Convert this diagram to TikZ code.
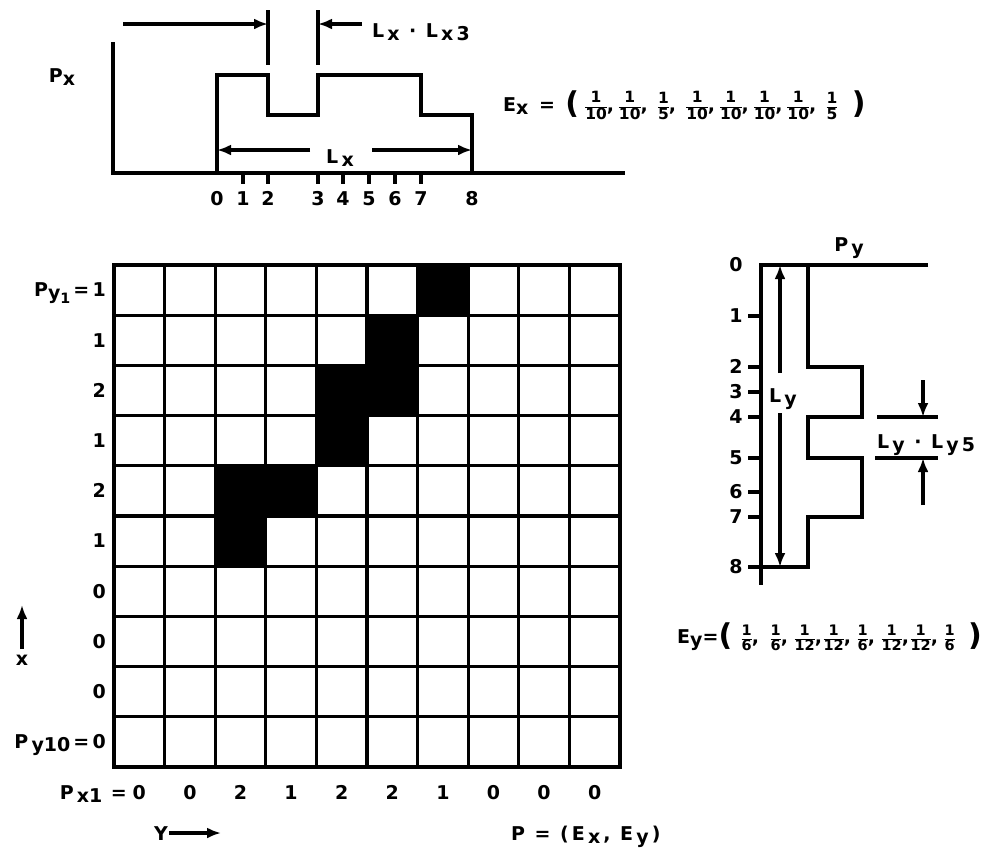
\documentclass[tikz,border=0pt]{standalone}
\usepackage{fontspec}
\usepackage{graphicx}
\setmainfont{DejaVu Sans}
\usetikzlibrary{arrows.meta}
\newcommand\sbs[1]{\raisebox{-0.3ex}{#1}}
\newcommand\frc[3]{{\fontsize{#1}{#1}\selectfont\bfseries\setlength\arrayrulewidth{1.3pt}%
  \renewcommand\arraystretch{0.8}\setlength\tabcolsep{0pt}%
  \begin{tabular}{c}#2\\\hline #3\end{tabular}}}
\newcommand\bp[1]{{\fontsize{30}{30}\selectfont #1}}
\newcommand\itx[2]{\makebox[33.7pt][c]{\frc{15.5}{#1}{#2}\rlap{,}}}
\newcommand\itxl[2]{\makebox[33.7pt][c]{\frc{15.5}{#1}{#2}}}
\newcommand\ity[2]{\makebox[29pt][c]{\frc{14.5}{#1}{#2}\rlap{,}}}
\newcommand\ityl[2]{\makebox[29pt][c]{\frc{14.5}{#1}{#2}}}
\begin{document}
\begin{tikzpicture}[x=1pt,y=-1pt,
  lab/.style={font=\fontsize{19}{21}\selectfont\bfseries, inner sep=0pt},
  heavy/.style={line width=3.3pt},
  arr/.style={line width=3.3pt,-{Latex[length=14pt,width=11pt]}}]
\useasboundingbox[fill=white] (0,0) rectangle (987,855);

% ---------- top profile P_x ----------
\draw[heavy,line join=miter] (113,42) -- (113,173) -- (625,173);
\draw[heavy,line join=miter] (217,173) -- (217,75) -- (268,75) -- (268,115) -- (318,115) -- (318,75)
  -- (421,75) -- (421,115) -- (472,115) -- (472,173);
\foreach \x in {243,268,318,343,369,395,421} \draw[heavy] (\x,173) -- (\x,184);
\foreach \x/\t in {217/0,243/1,268/2,318/3,343/4,369/5,395/6,421/7,472/8}
  \node[lab,anchor=base] (tx\t) at (\x,205) {\t};
\node[lab,anchor=base] (pxlab) at (62,82) {P\sbs{x}};
% Lx dimension
\coordinate (lxl) at (217,150);
\coordinate (lxr) at (472,150);
\coordinate (lxgl) at (310,150);
\coordinate (lxgr) at (372,150);
\node[lab,anchor=base] (lxlab) at (340,163) {L\,\sbs{x}};
\draw[arr] (lxgl) -- (lxl);
\draw[arr] (lxgr) -- (lxr);
% Lx . Lx3 marker
\draw[heavy] (268,10) -- (268,65);
\draw[heavy] (318,10) -- (318,65);
\coordinate (m1a) at (123,24);
\coordinate (m1b) at (268,24);
\coordinate (m2a) at (362,24);
\coordinate (m2b) at (318,24);
\draw[arr] (m1a) -- (m1b);
\draw[arr] (m2a) -- (m2b);
\node[lab,anchor=base west] (lxlx3) at (372,37) {L\,\sbs{x}\enspace·\enspace L\,\sbs{x\,3}};
% Ex formula
\node[lab,anchor=base west] (ex) at (503,111)
  {\makebox[76pt]{E\sbs{x}\hfill=\hfill\raisebox{-0.2ex}{\bp{(}}}%
   \itx{1}{10}\itx{1}{10}\itx{1}{5}\itx{1}{10}\itx{1}{10}\itx{1}{10}\itx{1}{10}\itxl{1}{5}%
   \hspace{3pt}\raisebox{-0.2ex}{\bp{)}}};

% ---------- grid ----------
\foreach \c/\r in {6/0,5/1,4/2,5/2,4/3,2/4,3/4,2/5}
  \fill ({114+\c*50.6},{265+\r*50.2}) rectangle ++(50.6,50.2);
\foreach \i in {1,...,9} \draw[heavy] ({114+\i*50.6},265) -- ({114+\i*50.6},767);
\foreach \j in {1,...,9} \draw[heavy] (114,{265+\j*50.2}) -- (620,{265+\j*50.2});
\draw[heavy,line join=miter] (114,265) rectangle (620,767);

% row labels
\node[lab,anchor=base east] (py0) at (106,296.8) {P\sbs{y}\raisebox{-0.6ex}{\scalebox{0.75}{1}}\,=\,1};
\foreach \r/\t in {1/1,2/2,3/1,4/2,5/1,6/0,7/0,8/0}
  \node[lab,anchor=base east] (py\r) at (106,{265+(\r+0.5)*50.2+6.8}) {\t};
\node[lab,anchor=base east] (py9) at (106,748.7) {P\,\sbs{y10}\,=\,0};
% column labels
\node[lab,anchor=base east] (pxone) at (127,799.5) {P\,\sbs{x1}\;\,=};
\foreach \c/\t in {0/0,1/0,2/2,3/1,4/2,5/2,6/1,7/0,8/0,9/0}
  \node[lab,anchor=base] (pc\c) at ({114+(\c+0.5)*50.6},799.5) {\t};
% axis hints
\node[lab,anchor=base] (ylab) at (161,840) {Y};
\coordinate (ystart) at (169,833);
\coordinate (yend) at (221,833);
\draw[arr] (ystart) -- (yend);
\node[lab,anchor=base] (xlab) at (22,665) {x};
\coordinate (xstart) at (22,649);
\coordinate (xend) at (22,605);
\draw[arr] (xstart) -- (xend);

% ---------- right profile P_y ----------
\draw[heavy,line join=miter] (928,265) -- (761,265) -- (761,585);
\draw[heavy,line join=miter] (808,265) -- (808,367) -- (862,367) -- (862,417) -- (808,417) -- (808,458)
  -- (862,458) -- (862,517) -- (808,517) -- (808,567) -- (761,567);
\foreach \y in {316,367,392,417,458,492,517,567} \draw[heavy] (748,\y) -- (761,\y);
\foreach \y/\t in {265/0,316/1,367/2,392/3,417/4,458/5,492/6,517/7,567/8}
  \node[lab,anchor=base] (ty\t) at (736,{\y+6.8}) {\t};
\node[lab,anchor=base] (pylab) at (849,251) {P\,\sbs{y}};
% Ly dimension
\coordinate (lyt) at (780,265);
\coordinate (lyb) at (780,567);
\coordinate (lygt) at (780,373);
\coordinate (lygb) at (780,413);
\node[lab,anchor=base] (lylab) at (783,402) {L\,\sbs{y}};
\draw[arr] (lygt) -- (lyt);
\draw[arr] (lygb) -- (lyb);
% Ly . Ly5 marker
\draw[heavy] (877,417) -- (938,417);
\draw[heavy] (875,458) -- (938,458);
\coordinate (n1a) at (923,380);
\coordinate (n1b) at (923,417);
\coordinate (n2a) at (923,505);
\coordinate (n2b) at (923,458);
\draw[arr] (n1a) -- (n1b);
\draw[arr] (n2a) -- (n2b);
\node[lab,anchor=base west] (lyly5) at (877,448) {L\,\sbs{y}\enspace·\enspace L\,\sbs{y\,5}};
% Ey formula
\node[lab,anchor=base west] (ey) at (677,643)
  {\makebox[55pt]{E\sbs{y}\hfill=\hfill\raisebox{-0.2ex}{\bp{(}}}%
   \ity{1}{6}\ity{1}{6}\ity{1}{12}\ity{1}{12}\ity{1}{6}\ity{1}{12}\ity{1}{12}\ityl{1}{6}%
   \hspace{4pt}\raisebox{-0.2ex}{\bp{)}}};
% P formula
\node[lab,anchor=base west] (pform) at (511,840) {P\enspace=\enspace(\,E\,\sbs{x}\,,\enspace E\,\sbs{y}\,)};
\end{tikzpicture}
\end{document}
